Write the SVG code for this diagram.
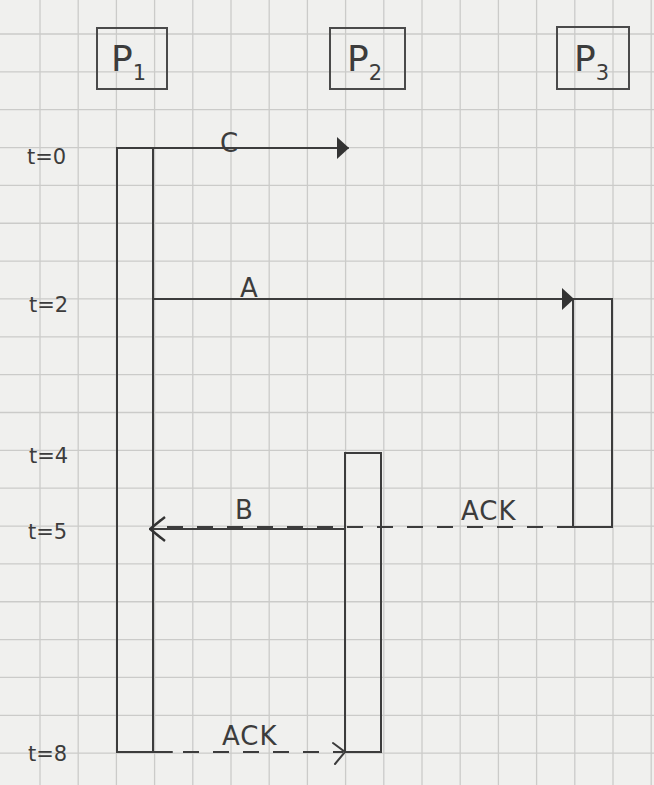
<svg xmlns="http://www.w3.org/2000/svg" width="654" height="785" viewBox="0 0 654 785">
  <style>
    .paper { fill: #f0f0ee; }
    .grid line { stroke: #cbcbc9; stroke-width: 1.3; }
    .pen { fill: none; stroke: #3c3c3c; stroke-width: 2; stroke-linecap: round; }
    .box { fill: none; stroke: #4a4a4a; stroke-width: 2; }
    .dash { fill: none; stroke: #3c3c3c; stroke-width: 2; stroke-dasharray: 16 14; }
    .lbl { font-family: "DejaVu Sans", "Liberation Sans", sans-serif; fill: #3c3c3c; }
    .pname { font-size: 36px; }
    .sub { font-size: 21px; }
    .msg { font-size: 26px; }
    .time { font-size: 21px; }
  </style>
  <defs>
    <marker id="filled" viewBox="0 0 12 22" refX="11" refY="11" markerWidth="12" markerHeight="22" markerUnits="userSpaceOnUse" orient="auto">
      <path d="M0,0 L12,11 L0,22 Z" fill="#333"/>
    </marker>
    <marker id="double" viewBox="0 0 18 26" refX="17" refY="13" markerWidth="18" markerHeight="26" markerUnits="userSpaceOnUse" orient="auto">
      <path d="M2,1 L17,13 L2,25 M6,4 L17,13 L6,22" fill="none" stroke="#333" stroke-width="2.4"/>
    </marker>
  </defs>

  <rect class="paper" x="0" y="0" width="654" height="785"/>
  <g class="grid">
    <line x1="40" y1="0" x2="40" y2="785"/>
    <line x1="78.2" y1="0" x2="78.2" y2="785"/>
    <line x1="116.4" y1="0" x2="116.4" y2="785"/>
    <line x1="154.6" y1="0" x2="154.6" y2="785"/>
    <line x1="192.8" y1="0" x2="192.8" y2="785"/>
    <line x1="231" y1="0" x2="231" y2="785"/>
    <line x1="269.2" y1="0" x2="269.2" y2="785"/>
    <line x1="307.4" y1="0" x2="307.4" y2="785"/>
    <line x1="345.6" y1="0" x2="345.6" y2="785"/>
    <line x1="383.8" y1="0" x2="383.8" y2="785"/>
    <line x1="422" y1="0" x2="422" y2="785"/>
    <line x1="460.2" y1="0" x2="460.2" y2="785"/>
    <line x1="498.4" y1="0" x2="498.4" y2="785"/>
    <line x1="536.6" y1="0" x2="536.6" y2="785"/>
    <line x1="574.8" y1="0" x2="574.8" y2="785"/>
    <line x1="613" y1="0" x2="613" y2="785"/>
    <line x1="651.2" y1="0" x2="651.2" y2="785"/>
    <line x1="0" y1="34" x2="654" y2="34"/>
    <line x1="0" y1="71.85" x2="654" y2="71.85"/>
    <line x1="0" y1="109.7" x2="654" y2="109.7"/>
    <line x1="0" y1="147.55" x2="654" y2="147.55"/>
    <line x1="0" y1="185.4" x2="654" y2="185.4"/>
    <line x1="0" y1="223.25" x2="654" y2="223.25"/>
    <line x1="0" y1="261.1" x2="654" y2="261.1"/>
    <line x1="0" y1="298.95" x2="654" y2="298.95"/>
    <line x1="0" y1="336.8" x2="654" y2="336.8"/>
    <line x1="0" y1="374.65" x2="654" y2="374.65"/>
    <line x1="0" y1="412.5" x2="654" y2="412.5"/>
    <line x1="0" y1="450.35" x2="654" y2="450.35"/>
    <line x1="0" y1="488.2" x2="654" y2="488.2"/>
    <line x1="0" y1="526.05" x2="654" y2="526.05"/>
    <line x1="0" y1="563.9" x2="654" y2="563.9"/>
    <line x1="0" y1="601.75" x2="654" y2="601.75"/>
    <line x1="0" y1="639.6" x2="654" y2="639.6"/>
    <line x1="0" y1="677.45" x2="654" y2="677.45"/>
    <line x1="0" y1="715.3" x2="654" y2="715.3"/>
    <line x1="0" y1="753.15" x2="654" y2="753.15"/>
  </g>

  <g id="P1">
    <rect class="box" x="97" y="28" width="70" height="61"/>
    <text class="lbl pname" x="111" y="71">P<tspan class="sub" dy="9">1</tspan></text>
    <path class="pen" d="M153,148 L117,148 L117,752 L153,752 L153,148"/>
  </g>
  <g id="P2">
    <rect class="box" x="330" y="28" width="75" height="61"/>
    <text class="lbl pname" x="347" y="71">P<tspan class="sub" dy="9">2</tspan></text>
    <path class="pen" d="M345,752 L345,453 L381,453 L381,752 L345,752"/>
  </g>
  <g id="P3">
    <rect class="box" x="557" y="27" width="72" height="62"/>
    <text class="lbl pname" x="574" y="71">P<tspan class="sub" dy="9">3</tspan></text>
    <path class="pen" d="M573,299 L612,299 L612,527 L573,527 Z"/>
  </g>

  <g id="time-labels" class="lbl time">
    <text x="27" y="164">t=0</text>
    <text x="29" y="312">t=2</text>
    <text x="29" y="463">t=4</text>
    <text x="28" y="539">t=5</text>
    <text x="28" y="761">t=8</text>
  </g>

  <g id="connectors">
    <line class="pen" x1="153" y1="148" x2="348" y2="148" marker-end="url(#filled)"/>
    <line class="pen" x1="153" y1="299" x2="573" y2="299" marker-end="url(#filled)"/>
    <line class="pen" x1="345" y1="529" x2="150" y2="529" marker-end="url(#double)"/>
    <line class="dash" x1="573" y1="527" x2="153" y2="527"/>
    <path class="dash" d="M153,752 L343,752" stroke-dasharray="0 46 16 14 16 14 16 14 16 14 16 14"/>
    <line class="pen" x1="153" y1="752" x2="172" y2="752"/>
    <path class="pen" d="M333,743 L345,752 L335,764" fill="none"/>
  </g>

  <g id="message-labels" class="lbl msg">
    <text x="220" y="152">C</text>
    <text x="240" y="297">A</text>
    <text x="235" y="519">B</text>
    <text x="461" y="520" letter-spacing="1">ACK</text>
    <text x="222" y="745" letter-spacing="1">ACK</text>
  </g>
</svg>
